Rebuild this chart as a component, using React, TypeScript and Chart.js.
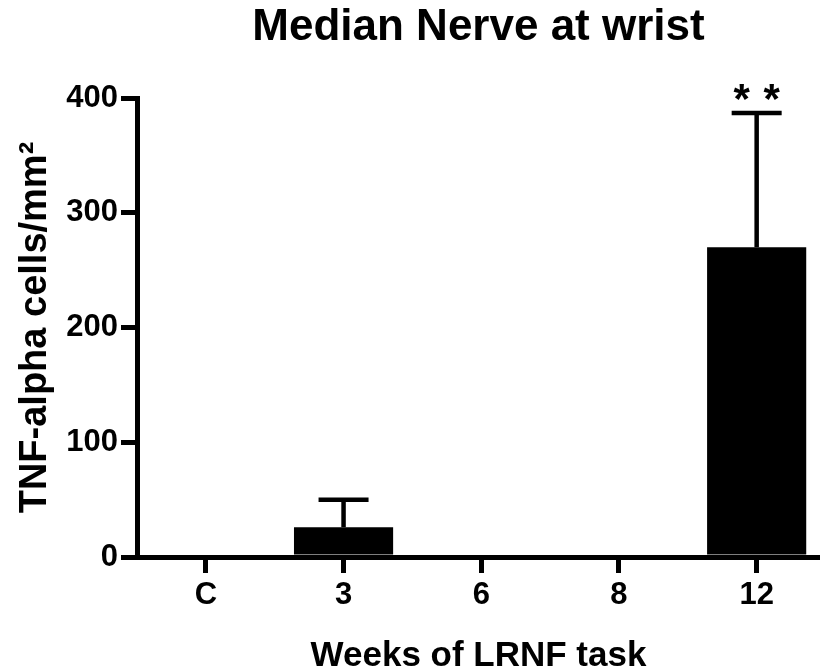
import React, { useEffect, useRef } from 'react';
import { Chart, registerables } from 'chart.js';
Chart.register(...registerables);

const FONT = '"Liberation Sans", Arial, Helvetica, sans-serif';

const categories = ['C', '3', '6', '8', '12'];
const means = [0, 26, 0, 0, 270];
const sems = [0, 24, 0, 0, 117];
const significance = ['', '', '', '', '**'];
const yMin = 0;
const yMax = 400;
const yStep = 100;
const chartTitle = 'Median Nerve at wrist';
const xTitle = 'Weeks of LRNF task';
const yTitle = 'TNF-alpha cells/mm²';

const errorBarPlugin = {
  id: 'errorBars',
  afterDatasetsDraw(chart: any) {
    const { ctx } = chart;
    const x = chart.scales.x;
    const y = chart.scales.y;
    ctx.save();
    ctx.strokeStyle = '#000';
    ctx.fillStyle = '#000';
    ctx.lineWidth = 4.5;
    ctx.lineCap = 'butt';
    means.forEach((m, i) => {
      const e = sems[i];
      const px = x.getPixelForValue(i);
      const top = y.getPixelForValue(m + e);
      if (e > 0) {
        const base = y.getPixelForValue(m);
        ctx.beginPath();
        ctx.moveTo(px, base);
        ctx.lineTo(px, top);
        ctx.moveTo(px - 25, top);
        ctx.lineTo(px + 25, top);
        ctx.stroke();
      }
      const s = significance[i];
      if (s) {
        ctx.font = `bold 42px ${FONT}`;
        ctx.textAlign = 'center';
        ctx.textBaseline = 'alphabetic';
        const chars = s.split('');
        const gap = 30;
        chars.forEach((c, k) => {
          ctx.fillText(c, px + (k - (chars.length - 1) / 2) * gap, top);
        });
      }
    });
    ctx.restore();
  },
};

export default function App() {
  const ref = useRef<HTMLCanvasElement | null>(null);
  useEffect(() => {
    if (!ref.current) return;
    const chart = new Chart(ref.current, {
      type: 'bar',
      data: {
        datasets: [
          {
            data: means.map((v, i) => ({ x: i, y: v })),
            backgroundColor: '#000',
            borderWidth: 0,
            barPercentage: 0.72,
            categoryPercentage: 1,
          },
        ],
      },
      plugins: [errorBarPlugin],
      options: {
        animation: false,
        responsive: false,
        maintainAspectRatio: false,
        layout: { padding: { left: 0, right: 0, top: 0, bottom: 0 } },
        plugins: {
          legend: { display: false },
          tooltip: { enabled: false },
          title: {
            display: true,
            text: chartTitle,
            fullSize: false,
            color: '#000',
            font: { family: FONT, size: 44, weight: 'bold' },
            padding: { top: 1.6, bottom: 43.6 },
          },
        },
        scales: {
          x: {
            type: 'linear',
            offset: false,
            min: -0.5,
            max: 4.46,
            afterBuildTicks: (scale: any) => {
              scale.ticks = categories.map((_, i) => ({ value: i }));
            },
            afterFit: (scale: any) => {
              scale.height = 115;
            },
            border: { display: true, color: '#000', width: 5 },
            grid: {
              display: true,
              offset: false,
              drawOnChartArea: false,
              drawTicks: true,
              tickLength: 16,
              lineWidth: 5,
              color: '#000',
            },
            ticks: {
              color: '#000',
              font: { family: FONT, size: 31, weight: 'bold' },
              padding: 4,
              maxRotation: 0,
              autoSkip: false,
              callback: (v: any) => categories[v] ?? '',
            },
            title: {
              display: true,
              text: xTitle,
              color: '#000',
              font: { family: FONT, size: 35, weight: 'bold' },
              padding: { top: 0, bottom: -5 },
            },
          },
          y: {
            type: 'linear',
            min: yMin,
            max: yMax,
            afterFit: (scale: any) => {
              scale.width = 137;
            },
            border: { display: true, color: '#000', width: 5 },
            grid: {
              display: true,
              drawOnChartArea: false,
              drawTicks: true,
              tickLength: 16,
              lineWidth: 5,
              color: '#000',
            },
            ticks: {
              stepSize: yStep,
              color: '#000',
              font: { family: FONT, size: 31, weight: 'bold' },
              padding: 3,
            },
            title: {
              display: true,
              text: yTitle,
              color: '#000',
              font: { family: FONT, size: 38, weight: 'bold' },
              padding: { top: 13, bottom: 0 },
            },
          },
        },
      },
    });
    return () => chart.destroy();
  }, []);
  return (
    <div style={{ position: 'fixed', left: 0, top: 0, width: 820, height: 672, background: '#fff' }}>
      <canvas ref={ref} width={820} height={672} style={{ width: 820, height: 672, display: 'block' }} />
    </div>
  );
}
